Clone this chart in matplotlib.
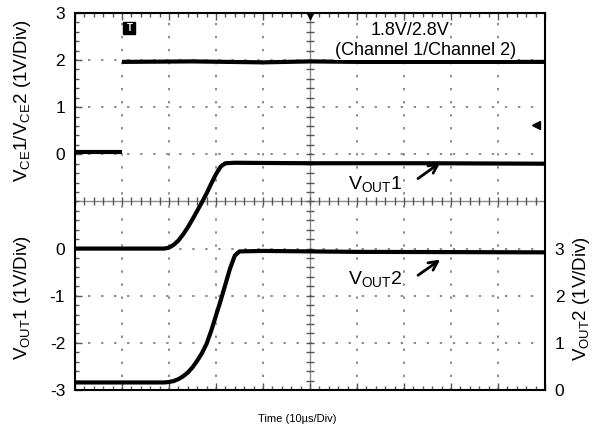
import numpy as np
import matplotlib.pyplot as plt

plt.rcParams['font.family'] = ['Liberation Sans', 'DejaVu Sans']
plt.rcParams['mathtext.fontset'] = 'custom'
plt.rcParams['mathtext.rm'] = 'Liberation Sans'
plt.rcParams['mathtext.default'] = 'regular'

# scope traces, time in us (10 us/div), amplitude in volts (1 V/div)
vce_off_time = [0, 10]
vce_off_volts = [0.05, 0.05]
vce_on_time = [10, 25, 40, 50, 60, 75, 100]
vce_on_volts = [1.96, 1.97, 1.95, 1.97, 1.96, 1.96, 1.96]

vout1_time = [0, 10, 19, 20, 21, 22, 23, 24, 25, 26, 27, 28, 29, 30, 31, 32, 34, 50, 75, 100]
vout1_volts = [0.0, 0.0, 0.0, 0.02, 0.08, 0.17, 0.3, 0.45, 0.62, 0.8, 0.98, 1.17, 1.38, 1.58, 1.74, 1.81, 1.82, 1.81, 1.81, 1.8]

vout2_time = [0, 10, 19, 20, 21, 22, 23, 24, 25, 26, 27, 28, 29, 30, 31, 32, 33, 34, 35, 40, 60, 100]
vout2_volts = [0.16, 0.16, 0.16, 0.17, 0.19, 0.23, 0.29, 0.37, 0.48, 0.62, 0.78, 0.98, 1.26, 1.58, 1.9, 2.24, 2.58, 2.85, 2.94, 2.95, 2.93, 2.92]

# where each channel's 0 V sits on the screen (divisions from the bottom)
vce_zero = 5
vout1_zero = 3
vout2_zero = 0

left_ticks = [0, 1, 2, 3, 5, 6, 7, 8]
left_labels = ['-3', '-2', '-1', '0', '0', '1', '2', '3']
right_ticks = [0, 1, 2, 3]
right_labels = ['0', '1', '2', '3']

us_per_div = 10.0
v_per_div = 1.0

fig = plt.figure(figsize=(5.95, 4.36), dpi=100)
ax = fig.add_axes([0.126, 0.1055, 0.79, 0.865])
ax.set_xlim(0, 10)
ax.set_ylim(0, 8)


def div_x(t):
    return np.asarray(t, dtype=float) / us_per_div


def div_y(v, zero):
    return np.asarray(v, dtype=float) / v_per_div + zero


# graticule
grid_col = '#8a8a8a'
for gx in range(1, 10):
    if gx != 5:
        ax.axvline(gx, color=grid_col, lw=1.4, dashes=(1.2, 5.5), zorder=1)
for gy in range(1, 8):
    if gy != 4:
        ax.axhline(gy, color=grid_col, lw=1.4, dashes=(1.2, 5.5), zorder=1)
ax.axhline(4, color=grid_col, lw=1.0, zorder=1)
ax.axvline(5, color=grid_col, lw=1.0, zorder=1)
fine = np.arange(0, 10.01, 0.2)
ax.plot(fine, np.full_like(fine, 4), ls='none', marker='|', ms=6, mew=1.0, color='#555555', zorder=1)
fine_y = np.arange(0, 8.01, 0.2)
ax.plot(np.full_like(fine_y, 5), fine_y, ls='none', marker='_', ms=6, mew=1.0, color='#555555', zorder=1)

# traces
trace = dict(color='black', lw=3.0, solid_capstyle='butt', zorder=3)
ax.plot(div_x(vce_off_time), div_y(vce_off_volts, vce_zero), **trace)
ax.plot(div_x(vce_on_time), div_y(vce_on_volts, vce_zero), **trace)
ax.plot(div_x(vout1_time), div_y(vout1_volts, vout1_zero), **trace)
ax.plot(div_x(vout2_time), div_y(vout2_volts, vout2_zero), **trace)

# trigger markers
ax.plot(1.16, 7.68, marker='s', ms=8, color='black', zorder=4)
ax.text(1.16, 7.68, 'T', color='white', fontsize=7, fontweight='bold',
        ha='center', va='center', zorder=5)
ax.plot(5.0, 7.93, marker='v', ms=5, color='black', zorder=4, clip_on=False)
ax.plot(9.8, 5.63, marker='<', ms=6, color='black', zorder=4)

# annotations
box = dict(facecolor='white', edgecolor='none', pad=0.5)
ax.text(7.12, 7.62, '1.8V/2.8V', fontsize=13, ha='center', va='center', bbox=box, zorder=4)
ax.text(7.45, 7.2, '(Channel 1/Channel 2)', fontsize=13, ha='center', va='center', bbox=box, zorder=4)
ax.text(5.8, 4.36, 'V$_{OUT}$1', fontsize=14, ha='left', va='center', bbox=box, zorder=4)
ax.annotate('', xy=(7.82, 4.86), xytext=(7.25, 4.45),
            arrowprops=dict(arrowstyle='->', lw=2.0, color='black', mutation_scale=16), zorder=4)
ax.text(5.8, 2.36, 'V$_{OUT}$2', fontsize=14, ha='left', va='center', bbox=box, zorder=4)
ax.annotate('', xy=(7.82, 2.8), xytext=(7.25, 2.4),
            arrowprops=dict(arrowstyle='->', lw=2.0, color='black', mutation_scale=16), zorder=4)

# frame and ticks
for s in ax.spines.values():
    s.set_linewidth(1.5)
    s.set_color('black')
    s.set_zorder(6)
ax.set_xticks(range(11))
ax.set_xticklabels([])
ax.set_xticks(np.arange(0, 10.01, 0.2), minor=True)
ax.set_yticks(left_ticks)
ax.set_yticklabels(left_labels, fontsize=12.5)
ax.set_yticks(np.arange(0, 8.01, 0.2), minor=True)
ax.tick_params(which='both', direction='in', top=True, right=True, color='#555555')
ax.tick_params(which='major', length=5, width=1.0)
ax.tick_params(which='minor', length=3, width=1.0)
ax.tick_params(axis='y', which='major', pad=7)

ax2 = ax.twinx()
ax2.set_ylim(0, 8)
ax2.set_yticks(right_ticks)
ax2.set_yticklabels(right_labels, fontsize=12.5)
ax2.tick_params(axis='y', direction='in', length=0, pad=7)
for s in ax2.spines.values():
    s.set_visible(False)

fig.text(0.038, 0.77, 'V$_{CE}$1/V$_{CE}$2 (1V/Div)', rotation=90,
         fontsize=13.5, ha='center', va='center')
fig.text(0.038, 0.318, 'V$_{OUT}$1 (1V/Div)', rotation=90,
         fontsize=13.5, ha='center', va='center')
fig.text(0.978, 0.315, 'V$_{OUT}$2 (1V/Div)', rotation=90,
         fontsize=13.5, ha='center', va='center')
fig.text(0.5, 0.04, 'Time (10µs/Div)', fontsize=8, ha='center', va='center')

fig.savefig('out.png', dpi=100, facecolor='white')
